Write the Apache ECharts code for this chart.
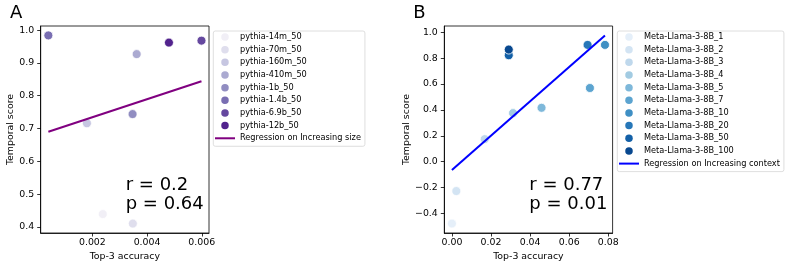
<!DOCTYPE html>
<html><head><meta charset="utf-8">
<script src="https://cdn.jsdelivr.net/npm/echarts@6/dist/echarts.min.js"></script>
<style>html,body{margin:0;padding:0;background:#fff}#c{width:793px;height:268px}</style>
</head><body><div id="c"></div>
<script>
// ---------- Panel A data ----------
const pythiaNames = ['pythia-14m_50','pythia-70m_50','pythia-160m_50','pythia-410m_50','pythia-1b_50','pythia-1.4b_50','pythia-6.9b_50','pythia-12b_50'];
const pythiaX = [0.00238, 0.00348, 0.00180, 0.00362, 0.00347, 0.00039, 0.00599, 0.00480];
const pythiaY = [0.439, 0.410, 0.716, 0.927, 0.744, 0.984, 0.968, 0.962];
const pythiaColors = ['#f1eff6','#dfdeed','#c6c6e1','#abaad1','#918dc1','#796eb2','#65489f','#52238d'];
const pythiaLineName = 'Regression on Increasing size';
const pythiaLineX = [0.00039, 0.00599];
const pythiaLineY = [0.690, 0.844];
const pythiaXTicks = [0.002, 0.004, 0.006];
const pythiaYTicks = [0.4, 0.5, 0.6, 0.7, 0.8, 0.9, 1.0];
const pythiaStats = ['r = 0.2', 'p = 0.64'];

// ---------- Panel B data ----------
const llamaNames = ['Meta-Llama-3-8B_1','Meta-Llama-3-8B_2','Meta-Llama-3-8B_3','Meta-Llama-3-8B_4','Meta-Llama-3-8B_5','Meta-Llama-3-8B_7','Meta-Llama-3-8B_10','Meta-Llama-3-8B_20','Meta-Llama-3-8B_50','Meta-Llama-3-8B_100'];
const llamaX = [0.0000, 0.00226, 0.01677, 0.03128, 0.04585, 0.0706, 0.0783, 0.0694, 0.02908, 0.02908];
const llamaY = [-0.478, -0.227, 0.174, 0.375, 0.416, 0.569, 0.902, 0.902, 0.822, 0.866];
const llamaColors = ['#e5eff9','#d3e4f3','#bfd8ec','#a2cbe2','#7eb8da','#5ca4d0','#3f8fc4','#2777b8','#1360a7','#08488f'];
const llamaLineName = 'Regression on Increasing context';
const llamaLineX = [0.0, 0.0783];
const llamaLineY = [-0.065, 0.975];
const llamaXTicks = [0.00, 0.02, 0.04, 0.06, 0.08];
const llamaYTicks = [-0.4, -0.2, 0.0, 0.2, 0.4, 0.6, 0.8, 1.0];
const llamaStats = ['r = 0.77', 'p = 0.01'];

const FONT = 'DejaVu Sans';
const fmtY = v => (v < -1e-9 ? '\u2212' : '') + Math.abs(v).toFixed(1);
const LINE_ICON = 'path://M0,0L20,0L20,2L0,2Z';
const DOT_ICON = 'path://M10,0A10,10,0,1,1,9.99,0Z';

function xAxisDef(gi, min, max, ticks, dec) {
  return {
    type: 'value', gridIndex: gi, min: min, max: max,
    name: 'Top-3 accuracy', nameLocation: 'middle', nameGap: 19,
    nameTextStyle: {fontFamily: FONT, fontSize: 9.4, color: '#000'},
    axisLine: {show: true, onZero: false, lineStyle: {color: '#000', width: 0.8}},
    axisTick: {show: true, length: 3.5, lineStyle: {color: '#000', width: 0.8}, customValues: ticks},
    axisLabel: {fontFamily: FONT, fontSize: 9.4, color: '#000', margin: 5, customValues: ticks,
      formatter: v => v.toFixed(dec)},
    splitLine: {show: false}
  };
}
function yAxisDef(gi, min, max, ticks, gap) {
  return {
    type: 'value', gridIndex: gi, min: min, max: max,
    name: 'Temporal score', nameLocation: 'middle', nameGap: gap, nameRotate: 90,
    nameTextStyle: {fontFamily: FONT, fontSize: 9.4, color: '#000'},
    axisLine: {show: true, onZero: false, lineStyle: {color: '#000', width: 0.8}},
    axisTick: {show: true, length: 3.5, lineStyle: {color: '#000', width: 0.8}, customValues: ticks},
    axisLabel: {fontFamily: FONT, fontSize: 9.4, color: '#000', margin: 6.5, customValues: ticks,
      formatter: fmtY},
    splitLine: {show: false}
  };
}

const series = [];
pythiaNames.forEach((n, i) => {
  series.push({
    type: 'scatter', name: n, xAxisIndex: 0, yAxisIndex: 0,
    data: [[pythiaX[i], pythiaY[i]]], symbolSize: 9,
    itemStyle: {color: pythiaColors[i], borderColor: '#fff', borderWidth: 0.8, opacity: 1},
    emphasis: {disabled: true}, z: 2
  });
});
series.push({
  type: 'line', name: pythiaLineName, xAxisIndex: 0, yAxisIndex: 0,
  data: pythiaLineX.map((x, i) => [x, pythiaLineY[i]]),
  symbol: 'none', showSymbol: false, color: '#800080',
  itemStyle: {color: '#800080'},
  lineStyle: {color: '#800080', width: 2}, emphasis: {disabled: true}, z: 3
});
llamaNames.forEach((n, i) => {
  series.push({
    type: 'scatter', name: n, xAxisIndex: 1, yAxisIndex: 1,
    data: [[llamaX[i], llamaY[i]]], symbolSize: 9,
    itemStyle: {color: llamaColors[i], borderColor: '#fff', borderWidth: 0.8, opacity: 1},
    emphasis: {disabled: true}, z: 2
  });
});
series.push({
  type: 'line', name: llamaLineName, xAxisIndex: 1, yAxisIndex: 1,
  data: llamaLineX.map((x, i) => [x, llamaLineY[i]]),
  symbol: 'none', showSymbol: false, color: '#0000ff',
  itemStyle: {color: '#0000ff'},
  lineStyle: {color: '#0000ff', width: 2}, emphasis: {disabled: true}, z: 3
});

function legendDef(left, names, lineName) {
  return {
    orient: 'vertical', left: left, top: 31,
    padding: [1, 4, 3, 1.7], itemGap: 2.66, itemWidth: 20, itemHeight: 7.5,
    backgroundColor: '#fff', borderColor: '#d6d6d6', borderWidth: 0.8, borderRadius: 2,
    selectedMode: false,
    itemStyle: {borderWidth: 0},
    lineStyle: {width: 0},
    textStyle: {fontFamily: FONT, fontSize: 8.2, color: '#000', lineHeight: 10},
    data: names.map(n => ({name: n, icon: DOT_ICON})).concat([{name: lineName, icon: LINE_ICON}])
  };
}

function statText(x, lines) {
  return lines.map((t, i) => ({
    type: 'text', left: x, top: (i === 0 ? 186.7 : 206.3) - 10.5,
    style: {text: t, font: '18px "DejaVu Sans"', fill: '#000'}
  }));
}

const option = {
  animation: false,
  backgroundColor: '#fff',
  grid: [
    {left: 40.7, top: 26, width: 168.3, height: 207, show: true, borderColor: '#000', borderWidth: 0.8, backgroundColor: 'transparent'},
    {left: 444.3, top: 26, width: 168.3, height: 207, show: true, borderColor: '#000', borderWidth: 0.8, backgroundColor: 'transparent'}
  ],
  xAxis: [
    xAxisDef(0, 0.00011, 0.006265, pythiaXTicks, 3),
    xAxisDef(1, -0.0039, 0.0822, llamaXTicks, 2)
  ],
  yAxis: [
    yAxisDef(0, 0.3813, 1.0127, pythiaYTicks, 25),
    yAxisDef(1, -0.551, 1.048, llamaYTicks, 33)
  ],
  legend: [
    legendDef(213.3, pythiaNames, pythiaLineName),
    legendDef(617.3, llamaNames, llamaLineName)
  ],
  series: series,
  graphic: [
    {type: 'text', left: 10, top: 4, style: {text: 'A', font: '18px "DejaVu Sans"', fill: '#000'}},
    {type: 'text', left: 413.3, top: 4, style: {text: 'B', font: '18px "DejaVu Sans"', fill: '#000'}}
  ].concat(statText(125.7, pythiaStats)).concat(statText(529.3, llamaStats))
};

const chart = echarts.init(document.getElementById('c'), null, {renderer: 'canvas'});
chart.setOption(option);
</script>
</body></html>
